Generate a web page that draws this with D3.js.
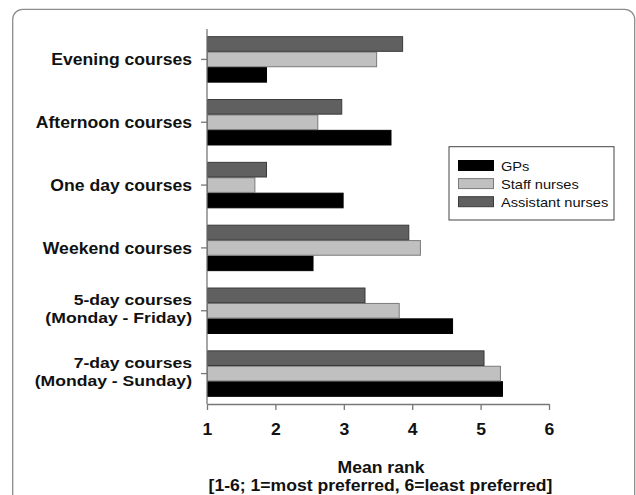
<!DOCTYPE html>
<html>
<head>
<meta charset="utf-8">
<script src="https://cdn.jsdelivr.net/npm/d3@7"></script>
<style>
  body { margin: 0; background: #fff; }
  text { font-family: "Liberation Sans", Arial, sans-serif; fill: #111; }
</style>
</head>
<body>
<script>
// data
var categories = [
  "Evening courses",
  "Afternoon courses",
  "One day courses",
  "Weekend courses",
  "5-day courses\n(Monday - Friday)",
  "7-day courses\n(Monday - Sunday)"
];
var seriesNames = ["GPs", "Staff nurses", "Assistant nurses"];
var gpValues = [1.87, 3.69, 2.99, 2.55, 4.59, 5.32];
var staffValues = [3.48, 2.62, 1.70, 4.12, 3.81, 5.29];
var assistantValues = [3.86, 2.97, 1.87, 3.95, 3.31, 5.05];
var xTicks = [1, 2, 3, 4, 5, 6];

var fills = { "GPs": "#000", "Staff nurses": "#c0c0c0", "Assistant nurses": "#606060" };
var strokes = { "GPs": "#000", "Staff nurses": "#7a7a7a", "Assistant nurses": "#3a3a3a" };
var STRETCH = 1.1; // text in the picture is a bit wide

var svg = d3.select("body").append("svg")
  .attr("width", 636)
  .attr("height", 495);

// card frame
svg.append("rect")
  .attr("x", 12.7).attr("y", 9.3)
  .attr("width", 622).attr("height", 540)
  .attr("rx", 10)
  .style("fill", "none")
  .style("stroke", "#8c8c8c")
  .style("stroke-width", 1.3);

var x = d3.scaleLinear().domain([1, 6]).range([207, 549]);
var y = d3.scaleBand().domain(categories).range([28, 405])
  .paddingInner(0.252).paddingOuter(0.126);
// top to bottom inside a group: assistant, staff, GPs
var ySub = d3.scaleBand().domain(seriesNames.slice().reverse())
  .range([0, y.bandwidth()]).padding(0.05);

var rows = categories.map(function (c, i) {
  return { cat: c, "GPs": gpValues[i], "Staff nurses": staffValues[i], "Assistant nurses": assistantValues[i] };
});

// bars
var groups = svg.selectAll(".grp")
  .data(rows)
  .enter()
  .append("g")
  .attr("class", "grp")
  .attr("transform", function (d) { return "translate(0," + y(d.cat) + ")"; });

groups.selectAll("rect")
  .data(function (d) {
    return seriesNames.map(function (s) { return { s: s, v: d[s] }; });
  })
  .enter()
  .append("rect")
  .attr("x", x(1) + 0.5)
  .attr("y", function (d) { return ySub(d.s); })
  .attr("width", function (d) { return x(d.v) - x(1) - 0.5; })
  .attr("height", ySub.bandwidth())
  .style("fill", function (d) { return fills[d.s]; })
  .style("stroke", function (d) { return strokes[d.s]; })
  .style("stroke-width", 1);

// y axis (ticks only, labels drawn below)
var yAxis = svg.append("g")
  .attr("transform", "translate(" + x(1) + ",0)")
  .call(d3.axisLeft(y).tickSize(6).tickSizeOuter(0).tickFormat(""));
yAxis.select(".domain").attr("d", "M0,29V404");
yAxis.selectAll("line, path").style("stroke", "#777").style("stroke-width", 1.3);

// category labels, one text per line
var labelLines = [];
categories.forEach(function (c) {
  var lines = c.split("\n");
  lines.forEach(function (ln, i) {
    var off = lines.length === 1 ? 5.8 : (i === 0 ? -5.6 : 12.6);
    labelLines.push({ cat: c, text: ln, off: off, two: lines.length > 1 });
  });
});

svg.selectAll(".ylab")
  .data(labelLines)
  .enter()
  .append("text")
  .attr("class", "ylab")
  .attr("text-anchor", "end")
  .style("font-size", function (d) { return d.two ? "15.5px" : "16px"; })
  .style("font-weight", "bold")
  .attr("transform", function (d) {
    var sx = d.two ? STRETCH * 16 / 15.5 : STRETCH;
    return "translate(192," + (y(d.cat) + y.bandwidth() / 2 + d.off) + ") scale(" + sx + ",1)";
  })
  .text(function (d) { return d.text; });

// x axis
var xAxis = svg.append("g")
  .attr("transform", "translate(0,404)")
  .call(d3.axisBottom(x).tickValues(xTicks).tickSize(6).tickSizeOuter(0).tickFormat(d3.format("d")));
xAxis.selectAll("line, path").style("stroke", "#777").style("stroke-width", 1.3);
xAxis.selectAll("text")
  .attr("y", 0).attr("dy", 0)
  .attr("transform", "translate(0,30.5) scale(" + STRETCH + ",1)")
  .style("font-size", "16px")
  .style("font-weight", "bold")
  .style("font-family", "'Liberation Sans', Arial, sans-serif")
  .style("fill", "#111");

// axis title
svg.append("text")
  .attr("text-anchor", "middle")
  .attr("transform", "translate(381,472.5) scale(" + STRETCH + ",1)")
  .style("font-size", "16px")
  .style("font-weight", "bold")
  .text("Mean rank");
svg.append("text")
  .attr("text-anchor", "middle")
  .attr("transform", "translate(380.5,491) scale(" + STRETCH + ",1)")
  .style("font-size", "16px")
  .style("font-weight", "bold")
  .text("[1-6; 1=most preferred, 6=least preferred]");

// legend
var legend = svg.append("g").attr("transform", "translate(449,146.7)");
legend.append("rect")
  .attr("width", 165).attr("height", 73.3)
  .style("fill", "#fff")
  .style("stroke", "#444")
  .style("stroke-width", 1);

var item = legend.selectAll(".item")
  .data(seriesNames)
  .enter()
  .append("g")
  .attr("class", "item")
  .attr("transform", function (d, i) { return "translate(0," + (18.8 + i * 18.1) + ")"; });

item.append("rect")
  .attr("x", 9.5).attr("y", -5)
  .attr("width", 35).attr("height", 10)
  .style("fill", function (d) { return fills[d]; })
  .style("stroke", function (d) { return strokes[d]; })
  .style("stroke-width", 1);

item.append("text")
  .attr("transform", "translate(52,5) scale(" + STRETCH + ",1)")
  .style("font-size", "13.3px")
  .text(function (d) { return d; });
</script>
</body>
</html>
